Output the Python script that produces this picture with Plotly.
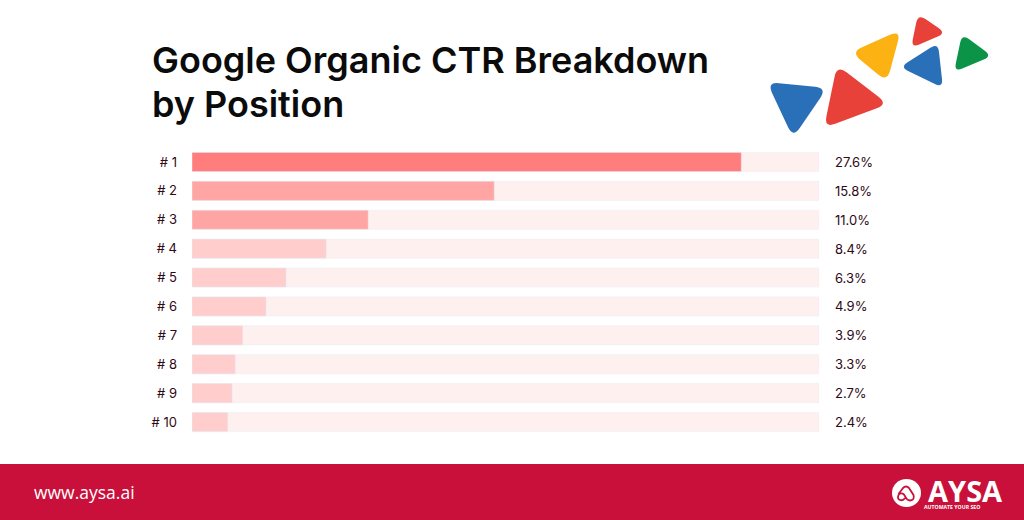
import plotly.graph_objects as go

# ========== Data ==========
positions = ['# 1', '# 2', '# 3', '# 4', '# 5', '# 6', '# 7', '# 8', '# 9', '# 10']
ctr_labels = ['27.6%', '15.8%', '11.0%', '8.4%', '6.3%', '4.9%', '3.9%', '3.3%', '2.7%', '2.4%']
# drawn bar length, as share of the full track (not proportional to the printed CTR)
bar_lengths = [87.6, 48.2, 28.1, 21.4, 15.0, 11.8, 8.1, 6.9, 6.4, 5.7]
track_lengths = [100] * 10
bar_colors = ['#ff7d7c', '#ffa5a3', '#ffa5a3', '#ffcdcc', '#ffcdcc',
              '#ffcdcc', '#ffcdcc', '#ffcdcc', '#ffcdcc', '#ffcdcc']

W, H = 1024, 520
DARK = '#2f0a16'
FOOTER = '#c8103a'


def px(x):
    return x / W


def py(y):
    return 1 - y / H


def rounded_triangle(pts, color, r=12):
    # path in paper coords, corners softened with a quadratic curve
    path = ''
    for i in range(3):
        cx, cy = pts[i]
        ax, ay = pts[i - 1]
        bx, by = pts[(i + 1) % 3]
        la = ((ax - cx) ** 2 + (ay - cy) ** 2) ** 0.5
        lb = ((bx - cx) ** 2 + (by - cy) ** 2) ** 0.5
        s = (cx + (ax - cx) * r / la, cy + (ay - cy) * r / la)
        e = (cx + (bx - cx) * r / lb, cy + (by - cy) * r / lb)
        path += f"{'M' if i == 0 else 'L'} {px(s[0]):.5f} {py(s[1]):.5f} "
        path += f"Q {px(cx):.5f} {py(cy):.5f} {px(e[0]):.5f} {py(e[1]):.5f} "
    path += 'Z'
    return dict(type='path', xref='paper', yref='paper', path=path,
                fillcolor=color, line_width=0, layer='above')


def page_text(x, y, text, font, **kw):
    return dict(x=px(x), y=py(y), xref='paper', yref='paper', text=text, showarrow=False,
                xanchor='left', yanchor='middle', borderpad=0, font=font, **kw)


def logo_glyph():
    # the looped "A" inside the white badge
    p = lambda x, y: f'{px(x):.5f} {py(y):.5f}'
    path = (f'M {p(898.5, 494)} L {p(903, 488)} Q {p(906, 485)} {p(909, 488)} L {p(913.5, 495)} '
            f'Q {p(915, 500)} {p(910, 500.5)} Q {p(907, 500.5)} {p(905.5, 497)} L {p(904, 494.5)} '
            f'Q {p(901, 492)} {p(898.5, 495)} Q {p(897, 499)} {p(900, 500)} Q {p(903, 501)} {p(905, 498)}')
    return dict(type='path', xref='paper', yref='paper', path=path,
                line=dict(color=FOOTER, width=1.8))


# ========== Bars ==========
fig = go.Figure()
fig.add_trace(go.Bar(y=positions, x=track_lengths, orientation='h',
                     marker_color='#fff0f0', hoverinfo='skip'))
fig.add_trace(go.Bar(y=positions, x=bar_lengths, orientation='h',
                     marker_color=bar_colors, customdata=ctr_labels,
                     hovertemplate='%{y}: %{customdata}<extra></extra>'))

annotations = []
for pos, label in zip(positions, ctr_labels):
    annotations.append(dict(x=100, y=pos, xref='x', yref='y', text=label, showarrow=False,
                            xanchor='left', xshift=14,
                            font=dict(family='Inter', size=13, color=DARK)))

title_font = dict(family='Inter', size=36, weight=600, color='#0b0b0b')
wordmark = ('<b>\u00a0\u00a0\u00a0<span style="font-size:29px">AYSA</span><br>'
            'AUTOMATE YOUR SEO</b>')
annotations += [
    page_text(150.5, 60, 'Google Organic CTR Breakdown', title_font),
    page_text(150.5, 104, 'by Position', title_font),
    page_text(33, 492, 'www.aysa.ai', dict(family='Open Sans', size=17.5, color='white')),
    # one text block: line pitch follows the small base size, as in the logo
    page_text(923, 491, wordmark, dict(family='Open Sans', size=5.2, color='white'), align='left'),
]

shapes = [
    dict(type='rect', xref='paper', yref='paper', x0=0, x1=1, y0=py(520), y1=py(464),
         fillcolor=FOOTER, line_width=0, layer='below'),
    # logo badge
    dict(type='circle', xref='paper', yref='paper', x0=px(892), x1=px(921), y0=py(507), y1=py(479),
         fillcolor='white', line_width=0),
    logo_glyph(),
    rounded_triangle([(767, 82), (827, 88), (793, 138)], '#2a70b9'),
    rounded_triangle([(837, 65), (888, 104), (824, 128)], '#e8413a'),
    rounded_triangle([(851, 52), (901, 30), (887, 82)], '#fdb213'),
    rounded_triangle([(918, 14), (946, 33), (911, 48)], '#e8413a', r=9),
    rounded_triangle([(900, 67), (938, 43), (943, 88)], '#2a70b9', r=9),
    rounded_triangle([(962, 34), (992, 56), (954, 72)], '#0b9347', r=9),
]

fig.update_layout(
    width=W,
    height=H,
    margin=dict(t=0, b=0, l=0, r=0),
    paper_bgcolor='white',
    plot_bgcolor='white',
    barmode='overlay',
    bargap=0.34,
    showlegend=False,
    xaxis=dict(domain=[px(192), px(819)], range=[0, 100], visible=False),
    yaxis=dict(domain=[py(436.5), py(147.5)], autorange='reversed', type='category',
               showgrid=False, showline=False, ticks='', ticklabelstandoff=14,
               tickfont=dict(family='Inter', size=13, color=DARK)),
    annotations=annotations,
    shapes=shapes,
)

fig.write_html('out.html', config=dict(displayModeBar=False),
               post_script="document.body.style.margin='0';")
